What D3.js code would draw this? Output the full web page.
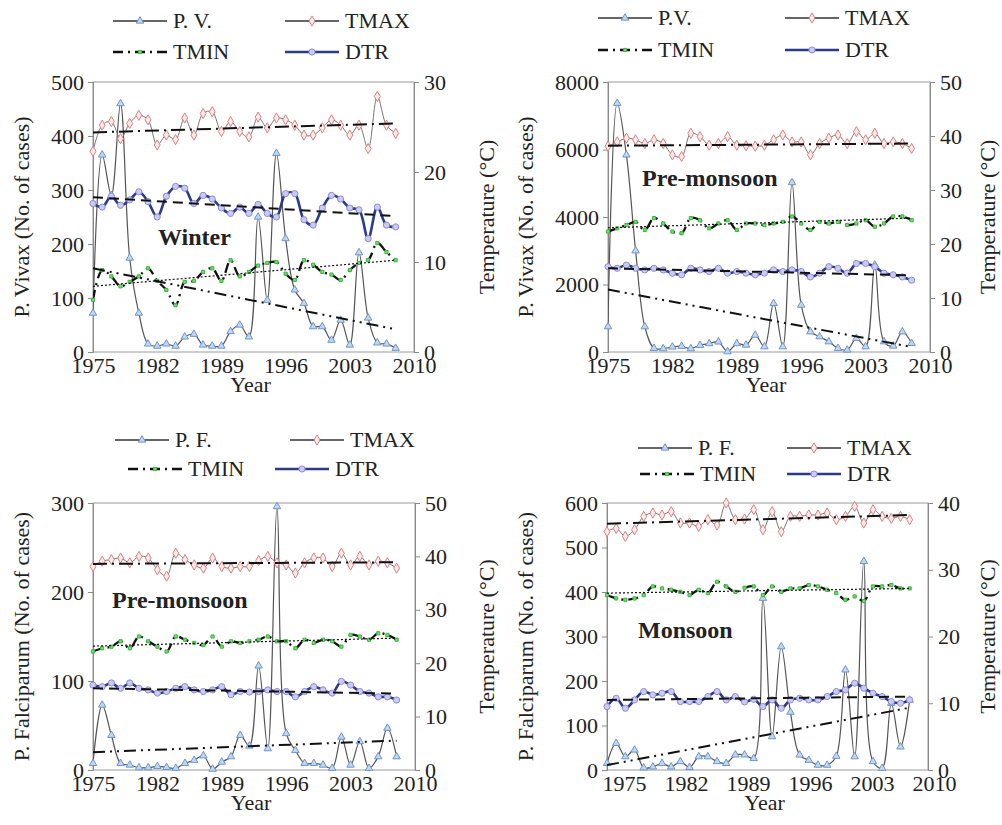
<!DOCTYPE html>
<html>
<head>
<meta charset="utf-8">
<script src="https://cdn.jsdelivr.net/npm/d3@7"></script>
<style>
  body { margin: 0; background: #fff; }
  svg text { font-family: "Liberation Serif", "Times New Roman", "DejaVu Serif", serif; fill: #222; }
</style>
</head>
<body>
<div id="container"></div>
<script>
/* DATA */
const years = [1975, 1976, 1977, 1978, 1979, 1980, 1981, 1982, 1983, 1984, 1985, 1986,
  1987, 1988, 1989, 1990, 1991, 1992, 1993, 1994, 1995, 1996, 1997, 1998, 1999, 2000,
  2001, 2002, 2003, 2004, 2005, 2006, 2007, 2008];
const xTickYears = [1975, 1982, 1989, 1996, 2003, 2010];

// Winter, P. vivax
const pvWinter = [72, 365, 290, 460, 174, 72, 15, 11, 15, 11, 28, 33, 13, 11, 11, 38, 50,
  28, 250, 96, 368, 210, 115, 90, 47, 47, 22, 59, 13, 184, 63, 17, 15, 7];
const tmaxWinter = [22.3, 25.2, 25.6, 23.7, 25.4, 26.3, 25.8, 23.0, 24.1, 23.6, 26.0, 24.1,
  26.5, 26.7, 24.5, 25.6, 24.5, 23.9, 26.1, 24.9, 26.0, 25.8, 25.2, 24.1, 24.1, 24.9, 25.8,
  25.2, 24.1, 25.2, 22.6, 28.4, 25.2, 24.3];
const tminWinter = [5.8, 9.1, 8.4, 7.3, 7.8, 8.4, 9.3, 7.9, 6.9, 5.2, 7.8, 7.9, 8.9, 9.3,
  7.9, 10.2, 8.4, 8.9, 9.6, 9.9, 10.0, 8.7, 8.0, 10.2, 9.7, 8.9, 8.6, 8.0, 9.1, 9.9, 10.2,
  12.1, 11.1, 10.2];
const dtrWinter = [16.5, 16.1, 17.3, 16.3, 16.9, 17.8, 16.7, 15.0, 17.3, 18.4, 18.2, 16.5,
  17.4, 17.0, 16.0, 15.4, 16.1, 15.4, 16.4, 15.4, 15.0, 17.6, 17.6, 14.7, 14.1, 16.0, 17.4,
  17.0, 16.0, 15.8, 12.6, 16.1, 14.1, 13.9];
// trend values at 1975 and 2008: cases, TMAX, TMIN, DTR
const trendWinter = [[155, 42], [24.4, 25.4], [7.3, 10.2], [17.2, 15.1]];

// Pre-monsoon, P. vivax
const pvPre = [750, 7370, 5840, 3000, 750, 110, 100, 150, 170, 100, 200, 250, 300, 10, 250,
  207, 500, 158, 1440, 158, 5020, 1390, 600, 455, 306, 110, 60, 405, 158, 2580, 306, 178,
  600, 257];
const tmaxPre = [38.1, 38.9, 39.6, 39.3, 38.6, 39.3, 38.6, 36.5, 36.2, 40.5, 39.9, 38.3,
  38.6, 39.9, 38.3, 38.2, 38.1, 38.3, 39.3, 40.2, 38.9, 38.9, 36.5, 38.6, 39.6, 40.2, 38.6,
  40.8, 39.3, 40.5, 38.6, 38.9, 38.6, 37.7];
const tminPre = [22.3, 22.9, 23.5, 24.1, 22.6, 24.8, 23.8, 22.3, 22.0, 24.8, 24.4, 22.9,
  23.8, 24.4, 22.6, 23.8, 23.8, 23.5, 23.8, 24.1, 25.1, 23.8, 22.6, 24.1, 23.8, 24.1, 23.5,
  23.8, 24.4, 23.2, 23.8, 25.1, 25.1, 24.4];
const dtrPre = [15.8, 15.5, 16.1, 15.5, 15.2, 15.5, 15.2, 14.6, 14.3, 15.5, 15.2, 14.9,
  15.5, 14.6, 14.9, 14.6, 14.3, 14.6, 15.2, 14.9, 15.2, 14.9, 13.9, 14.6, 15.8, 15.5, 14.6,
  16.4, 16.4, 15.8, 14.6, 14.3, 13.9, 13.3];
const trendPre = [[1850, 150], [38.2, 38.6], [23.0, 24.8], [15.5, 14.2]];

// Pre-monsoon, P. falciparum
const pfPre = [7.5, 73, 39, 7.5, 5.6, 2.6, 2.6, 4, 3, 2, 7.5, 11, 16, 1, 9, 15, 39, 27, 117,
  24, 296, 41, 22, 7.5, 7.5, 5.6, 2, 37, 5.6, 32, 2, 15, 47, 15];
const tmaxPreF = [38.1, 39.1, 39.4, 39.7, 38.8, 40.0, 39.7, 37.5, 36.3, 40.6, 39.4, 38.4,
  37.8, 39.7, 38.1, 37.8, 38.1, 38.1, 39.2, 40.0, 38.8, 38.4, 36.9, 38.8, 39.7, 39.7, 38.1,
  40.6, 38.4, 40.0, 38.4, 39.1, 38.8, 37.8];
const tminPreF = [22.2, 22.8, 23.1, 24.1, 22.8, 25.0, 24.1, 23.1, 22.2, 25.0, 24.4, 23.8,
  23.4, 25.0, 23.1, 24.1, 23.8, 24.1, 24.4, 25.0, 24.1, 24.1, 22.8, 24.4, 23.8, 24.4, 24.1,
  23.1, 25.3, 25.0, 24.4, 25.6, 25.3, 24.4];
const dtrPreF = [15.9, 15.6, 16.3, 15.3, 16.3, 15.3, 15.0, 14.4, 14.7, 15.3, 15.6, 15.0,
  14.7, 15.0, 15.6, 14.1, 14.7, 14.6, 14.7, 15.0, 14.7, 14.7, 13.7, 14.7, 15.6, 15.0, 14.4,
  16.6, 15.9, 14.7, 14.4, 13.7, 13.7, 13.1];
const trendPreF = [[20, 33], [38.6, 38.9], [23.2, 24.7], [15.3, 14.3]];

// Monsoon, P. falciparum
const pfMon = [15, 60, 30, 45, 5, 7, 15, 7, 19, 6, 30, 30, 19, 15, 34, 34, 26, 386, 75, 277,
  130, 34, 22, 11, 11, 31, 225, 30, 469, 19, 4, 150, 52, 157];
const tmaxMon = [35.7, 36.2, 35.0, 36.0, 38.0, 38.5, 38.2, 38.7, 37.0, 37.0, 36.5, 37.5,
  36.7, 40.0, 37.5, 37.6, 39.0, 36.0, 38.7, 35.7, 38.0, 38.0, 38.2, 38.2, 38.5, 37.5, 38.0,
  39.5, 37.0, 39.0, 38.0, 37.7, 38.0, 37.5];
const tminMon = [26.2, 25.7, 25.5, 25.7, 26.2, 27.5, 27.2, 27.0, 26.7, 26.2, 27.0, 26.5,
  28.2, 27.5, 26.7, 27.3, 27.5, 26.2, 27.5, 26.7, 27.2, 27.2, 27.7, 27.5, 27.0, 26.5, 25.5,
  26.0, 25.3, 27.5, 27.5, 27.7, 27.2, 27.2];
const dtrMon = [9.5, 10.75, 9.25, 10.5, 11.75, 11.25, 11.5, 11.75, 10.25, 10.25, 10.25, 11.0,
  11.75, 10.5, 11.0, 10.2, 10.6, 9.5, 10.5, 9.25, 10.5, 10.75, 10.5, 10.5, 11.0, 11.75, 12.0,
  13.0, 12.25, 11.5, 11.0, 10.25, 10.0, 10.5];
const trendMon = [[11, 140], [36.9, 38.2], [26.5, 27.2], [10.5, 11.0]];

const ticksVivaxWinter = [0, 100, 200, 300, 400, 500];
const ticksVivaxPre = [0, 2000, 4000, 6000, 8000];
const ticksFalcPre = [0, 100, 200, 300];
const ticksFalcMon = [0, 100, 200, 300, 400, 500, 600];
const ticksTemp30 = [0, 10, 20, 30];
const ticksTemp40 = [0, 10, 20, 30, 40];
const ticksTemp50 = [0, 10, 20, 30, 40, 50];

/* PANELS */
const panels = [
  { cases: pvWinter, tmax: tmaxWinter, tmin: tminWinter, dtr: dtrWinter, trend: trendWinter,
    left: 93, right: 414, top: 82, bottom: 352, lTicks: ticksVivaxWinter, rTicks: ticksTemp30,
    caseName: 'P. V.', yTitle: 'P. Vivax (No. of cases)', season: 'Winter',
    seasonPos: [158, 245], lTitleX: 22, rTitleX: 487,
    legend: [[113, 21], [285, 21], [113, 52], [285, 52]] },
  { cases: pvPre, tmax: tmaxPre, tmin: tminPre, dtr: dtrPre, trend: trendPre,
    left: 608, right: 930, top: 82, bottom: 352, lTicks: ticksVivaxPre, rTicks: ticksTemp50,
    caseName: 'P.V.', yTitle: 'P. Vivax (No. of cases)', season: 'Pre-monsoon',
    seasonPos: [642, 186], lTitleX: 526, rTitleX: 988,
    legend: [[598, 18], [785, 18], [598, 50], [785, 50]] },
  { cases: pfPre, tmax: tmaxPreF, tmin: tminPreF, dtr: dtrPreF, trend: trendPreF,
    left: 93, right: 415, top: 503, bottom: 770, lTicks: ticksFalcPre, rTicks: ticksTemp50,
    caseName: 'P. F.', yTitle: 'P. Falciparum (No. of cases)', season: 'Pre-monsoon',
    seasonPos: [112, 608], lTitleX: 22, rTitleX: 487,
    legend: [[115, 440], [290, 440], [128, 469], [275, 469]] },
  { cases: pfMon, tmax: tmaxMon, tmin: tminMon, dtr: dtrMon, trend: trendMon,
    left: 607, right: 928, top: 503, bottom: 770, lTicks: ticksFalcMon, rTicks: ticksTemp40,
    caseName: 'P. F.', yTitle: 'P. Falciparum (No. of cases)', season: 'Monsoon',
    seasonPos: [638, 638], lTitleX: 526, rTitleX: 988, labelRange: [624, 934],
    legend: [[638, 448], [787, 448], [640, 474], [787, 474]] }
];

const styles = {
  cases: { stroke: '#555', width: 1.2, dash: null, symbol: d3.symbolTriangle, size: 24, fill: '#c3d6ee', mstroke: '#6b97cf' },
  tmax: { stroke: '#777', width: 1, dash: null, symbol: d3.symbolDiamond, size: 30, fill: '#fbeaea', mstroke: '#e07f7f' },
  tmin: { stroke: '#111', width: 2.3, dash: '10,5,2,5', symbol: d3.symbolSquare, size: 10, fill: '#74dc74', mstroke: '#3bb53b' },
  dtr: { stroke: '#2c3a8a', width: 2.6, dash: null, symbol: d3.symbolCircle, size: 30, fill: '#cbcbf2', mstroke: '#8c8cd8' }
};
const trendStyles = [
  { width: 2, dash: '12,5,2,5,2,5' },
  { width: 2, dash: '14,5,2,5' },
  { width: 1.2, dash: '2,2' },
  { width: 2, dash: '10,6' }
];
const keys = ['cases', 'tmax', 'tmin', 'dtr'];

const svg = d3.select('#container')
  .append('svg')
  .attr('width', 1002)
  .attr('height', 825);

panels.forEach((p, pi) => {
  const x = d3.scaleLinear().domain([1975, 2010]).range([p.left, p.right]);
  const xLab = d3.scaleLinear().domain([1975, 2010]).range(p.labelRange || [p.left, p.right]);
  const yL = d3.scaleLinear().domain([0, d3.max(p.lTicks)]).range([p.bottom, p.top]);
  const yR = d3.scaleLinear().domain([0, d3.max(p.rTicks)]).range([p.bottom, p.top]);
  const g = svg.append('g');

  g.append('clipPath').attr('id', 'clip' + pi)
    .append('rect')
    .attr('x', p.left).attr('y', p.top - 2)
    .attr('width', p.right - p.left).attr('height', p.bottom - p.top + 2);

  g.append('rect')
    .attr('x', p.left).attr('y', p.top)
    .attr('width', p.right - p.left).attr('height', p.bottom - p.top)
    .attr('fill', 'none').attr('stroke', '#9a9a9a').attr('stroke-width', 1);

  // axes
  const yAxisL = g.append('g').attr('transform', `translate(${p.left},0)`)
    .call(d3.axisLeft(yL).tickValues(p.lTicks).tickSize(5).tickPadding(4).tickFormat(d3.format('d')));
  const yAxisR = g.append('g').attr('transform', `translate(${p.right},0)`)
    .call(d3.axisRight(yR).tickValues(p.rTicks).tickSize(5).tickPadding(5).tickFormat(d3.format('d')));
  const xAxis = g.append('g').attr('transform', `translate(0,${p.bottom})`)
    .call(d3.axisBottom(xLab).tickValues(xTickYears).tickSize(0).tickPadding(5).tickFormat(d3.format('d')));
  [yAxisL, yAxisR, xAxis].forEach(a => {
    a.attr('font-family', null);
    a.select('.domain').attr('stroke', '#8a8a8a');
    a.selectAll('.tick line').attr('stroke', '#8a8a8a');
    a.selectAll('.tick text').attr('font-size', 22).attr('fill', '#222');
  });
  xAxis.select('.domain').remove();

  // titles
  g.append('text').attr('transform', `translate(${p.lTitleX + 7},${(p.top + p.bottom) / 2}) rotate(-90)`)
    .attr('text-anchor', 'middle').attr('font-size', 22).text(p.yTitle);
  g.append('text').attr('transform', `translate(${p.rTitleX + 7},${(p.top + p.bottom) / 2}) rotate(-90)`)
    .attr('text-anchor', 'middle').attr('font-size', 22).text('Temperature (°C)');
  g.append('text').attr('x', (p.left + p.right) / 2 - 3).attr('y', p.bottom + 40)
    .attr('text-anchor', 'middle').attr('font-size', 22).text('Year');
  g.append('text').attr('x', p.seasonPos[0]).attr('y', p.seasonPos[1])
    .attr('font-size', 24).attr('font-weight', 'bold').text(p.season);

  // series
  const plot = g.append('g');
  keys.forEach(k => {
    const s = styles[k];
    const yS = k === 'cases' ? yL : yR;
    const vals = p[k];
    const line = d3.line()
      .x((d, i) => x(years[i]))
      .y(d => yS(d))
      .curve(d3.curveCatmullRom.alpha(0.5));
    plot.append('path')
      .attr('clip-path', `url(#clip${pi})`)
      .attr('d', line(vals))
      .attr('fill', 'none')
      .attr('stroke', s.stroke)
      .attr('stroke-width', s.width)
      .attr('stroke-dasharray', s.dash);
    plot.selectAll(null)
      .data(vals)
      .join('path')
      .attr('transform', (d, i) => `translate(${x(years[i])},${yS(d)})`)
      .attr('d', d3.symbol(s.symbol, s.size))
      .attr('fill', s.fill)
      .attr('stroke', s.mstroke)
      .attr('stroke-width', 1);
  });

  // linear trends
  p.trend.forEach((t, ti) => {
    const yS = ti === 0 ? yL : yR;
    plot.append('line')
      .attr('x1', x(years[0])).attr('x2', x(years[years.length - 1]))
      .attr('y1', yS(t[0])).attr('y2', yS(t[1]))
      .attr('stroke', '#111')
      .attr('stroke-width', trendStyles[ti].width)
      .attr('stroke-dasharray', trendStyles[ti].dash);
  });

  // legend
  const names = [p.caseName, 'TMAX', 'TMIN', 'DTR'];
  keys.forEach((k, ki) => {
    const s = styles[k];
    const [lx, ly] = p.legend[ki];
    const lg = g.append('g');
    lg.append('line')
      .attr('x1', lx).attr('x2', lx + 54)
      .attr('y1', ly).attr('y2', ly)
      .attr('stroke', k === 'tmax' || k === 'cases' ? '#666' : s.stroke)
      .attr('stroke-width', k === 'cases' || k === 'tmax' ? 2 : s.width)
      .attr('stroke-dasharray', s.dash);
    lg.append('path')
      .attr('transform', `translate(${lx + 27},${ly})`)
      .attr('d', d3.symbol(s.symbol, s.size))
      .attr('fill', s.fill)
      .attr('stroke', s.mstroke);
    lg.append('text')
      .attr('x', lx + 60).attr('y', ly + 7)
      .attr('font-size', 22)
      .text(names[ki]);
  });
});
</script>
</body>
</html>
